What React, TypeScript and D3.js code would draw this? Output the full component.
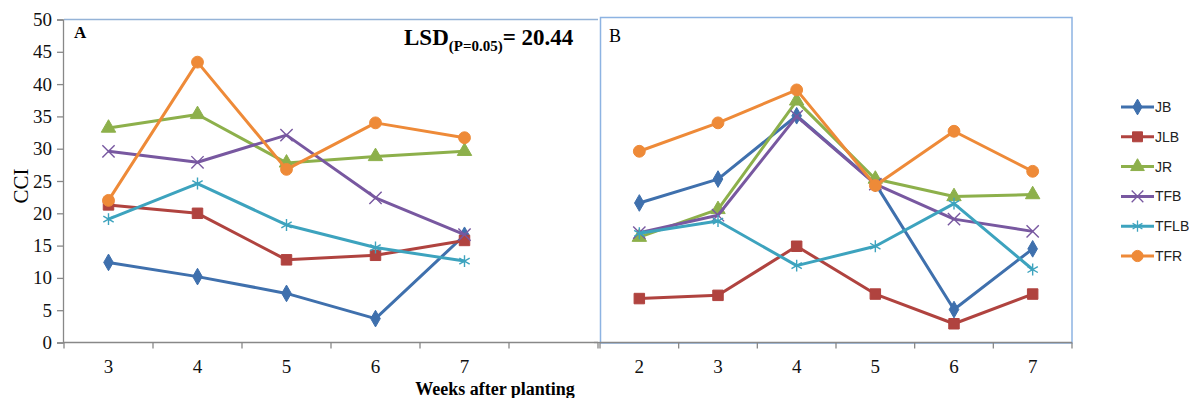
import React, { useEffect, useRef } from 'react';
import * as d3 from 'd3';

// weeks after planting
const weeksA = ['3', '4', '5', '6', '7'];
const weeksB = ['2', '3', '4', '5', '6', '7'];
const yTicks = [0, 5, 10, 15, 20, 25, 30, 35, 40, 45, 50];

const seriesNames = ['JB', 'JLB', 'JR', 'TFB', 'TFLB', 'TFR'];

// panel A values (CCI)
const jbA = [12.4, 10.2, 7.6, 3.7, 16.6];
const jlbA = [21.3, 20.0, 12.8, 13.5, 15.8];
const jrA = [33.2, 35.3, 27.8, 28.8, 29.6];
const tfbA = [29.6, 27.9, 32.1, 22.4, 16.7];
const tflbA = [19.1, 24.6, 18.2, 14.7, 12.6];
const tfrA = [22.0, 43.4, 26.8, 34.0, 31.7];

// panel B values (CCI)
const jbB = [21.6, 25.3, 35.1, 24.6, 5.1, 14.5];
const jlbB = [6.8, 7.3, 14.9, 7.5, 2.9, 7.5];
const jrB = [16.3, 20.6, 37.4, 25.3, 22.6, 22.9];
const tfbB = [17.0, 19.7, 35.0, 24.5, 19.1, 17.2];
const tflbB = [16.9, 18.8, 11.9, 14.9, 21.5, 11.3];
const tfrB = [29.6, 34.0, 39.1, 24.3, 32.7, 26.5];

const colors = ['#3F70AD', '#B0433F', '#8DB04B', '#7858A0', '#3DA3BE', '#EE8A38'];
const symbols = [
  d3.symbolDiamond,
  d3.symbolSquare,
  d3.symbolTriangle,
  d3.symbolX,
  d3.symbolAsterisk,
  d3.symbolCircle,
];
const symbolSizes = [80, 110, 90, 100, 100, 110];
const strokeSymbol = [false, false, false, true, true, false];

const serif = '"Liberation Serif", "Times New Roman", serif';

const App = () => {
  const ref = useRef<SVGSVGElement>(null);

  useEffect(() => {
    const svg = d3.select(ref.current);
    svg.selectAll('*').remove();

    const y = d3.scaleLinear().domain([0, 50]).range([342.5, 19.5]);

    const drawPanel = (
      cats: string[],
      slots: string[],
      x0: number,
      x1: number,
      values: number[][],
    ) => {
      const x = d3.scaleBand().domain(slots).range([x0, x1]).padding(0);
      const bw = x.bandwidth();
      const cx = (c: string) => (x(c) as number) + bw / 2;
      const g = svg.append('g');

      // x axis line + ticks at band edges
      g.append('line')
        .attr('x1', x0).attr('x2', x1)
        .attr('y1', y(0)).attr('y2', y(0))
        .attr('stroke', '#888').attr('stroke-width', 1.3);
      g.selectAll('.xt')
        .data(slots.map((s) => x(s) as number).concat([x1]))
        .enter().append('line')
        .attr('x1', (d) => d).attr('x2', (d) => d)
        .attr('y1', y(0)).attr('y2', y(0) + 6)
        .attr('stroke', '#888').attr('stroke-width', 1.3);
      g.selectAll('.xl')
        .data(cats)
        .enter().append('text')
        .attr('x', (d) => cx(d))
        .attr('y', y(0) + 30)
        .attr('text-anchor', 'middle')
        .attr('font-family', serif)
        .attr('font-size', 19)
        .attr('fill', '#111')
        .text((d) => d);

      values.forEach((vals, i) => {
        const line = d3.line<number>()
          .x((_, j) => cx(cats[j]))
          .y((d) => y(d));
        g.append('path')
          .attr('d', line(vals))
          .attr('fill', 'none')
          .attr('stroke', colors[i])
          .attr('stroke-width', 3)
          .attr('stroke-linejoin', 'round');
        const sym = d3.symbol().type(symbols[i]).size(symbolSizes[i]);
        g.selectAll(null)
          .data(vals)
          .enter().append('path')
          .attr('d', sym)
          .attr('transform', (d, j) => `translate(${cx(cats[j])},${y(d)})`)
          .attr('fill', strokeSymbol[i] ? 'none' : colors[i])
          .attr('stroke', colors[i])
          .attr('stroke-width', strokeSymbol[i] ? 1.4 : 1);
      });
    };

    // panel B frame
    svg.append('rect')
      .attr('x', 600.5).attr('y', 17.5)
      .attr('width', 471.5).attr('height', 325.5)
      .attr('fill', 'none')
      .attr('stroke', '#8DB3E2').attr('stroke-width', 1.5);

    // panel A top border
    svg.append('line')
      .attr('x1', 64).attr('x2', 598)
      .attr('y1', 19.5).attr('y2', 19.5)
      .attr('stroke', '#95B3D7').attr('stroke-width', 1.5);

    // panel A y axis
    const ay = svg.append('g')
      .attr('transform', 'translate(63,0)')
      .call(d3.axisLeft(y).tickValues(yTicks).tickSize(6).tickPadding(5));
    ay.select('.domain').attr('stroke', '#888').attr('stroke-width', 1.3);
    ay.selectAll('.tick line').attr('stroke', '#888').attr('stroke-width', 1.3);
    ay.selectAll('.tick text')
      .attr('font-family', serif)
      .attr('font-size', 19)
      .attr('fill', '#111');

    // panel B y tick at zero
    svg.append('line')
      .attr('x1', 594).attr('x2', 600)
      .attr('y1', y(0)).attr('y2', y(0))
      .attr('stroke', '#888').attr('stroke-width', 1.3);

    drawPanel(weeksA, [...weeksA, ' '], 64, 598,
      [jbA, jlbA, jrA, tfbA, tflbA, tfrA]);
    drawPanel(weeksB, weeksB, 600, 1072,
      [jbB, jlbB, jrB, tfbB, tflbB, tfrB]);

    // labels
    svg.append('text')
      .attr('x', 74).attr('y', 38)
      .attr('font-family', serif).attr('font-size', 17).attr('font-weight', 'bold')
      .text('A');
    svg.append('text')
      .attr('x', 609).attr('y', 42)
      .attr('font-family', serif).attr('font-size', 18)
      .text('B');

    const lsd = svg.append('text')
      .attr('x', 404).attr('y', 45)
      .attr('font-family', serif).attr('font-weight', 'bold')
      .attr('font-size', 23);
    lsd.append('tspan').text('LSD');
    lsd.append('tspan').attr('font-size', 15).attr('dy', 6).text('(P=0.05)');
    lsd.append('tspan').attr('dy', -6).text('= 20.44');

    svg.append('text')
      .attr('transform', 'translate(28,186) rotate(-90)')
      .attr('text-anchor', 'middle')
      .attr('font-family', serif).attr('font-size', 21)
      .text('CCI');

    svg.append('text')
      .attr('x', 495).attr('y', 395)
      .attr('text-anchor', 'middle')
      .attr('font-family', serif).attr('font-size', 18).attr('font-weight', 'bold')
      .text('Weeks after planting');

    // legend
    const lg = svg.append('g');
    seriesNames.forEach((name, i) => {
      const ly = 107 + i * 29.8;
      lg.append('line')
        .attr('x1', 1121).attr('x2', 1154)
        .attr('y1', ly).attr('y2', ly)
        .attr('stroke', colors[i]).attr('stroke-width', 3);
      lg.append('path')
        .attr('d', d3.symbol().type(symbols[i]).size(symbolSizes[i] * 0.9)())
        .attr('transform', `translate(1137.5,${ly})`)
        .attr('fill', strokeSymbol[i] ? 'none' : colors[i])
        .attr('stroke', colors[i])
        .attr('stroke-width', strokeSymbol[i] ? 1.3 : 1);
      lg.append('text')
        .attr('x', 1155).attr('y', ly + 5)
        .attr('font-family', '"Liberation Sans", Arial, sans-serif')
        .attr('font-size', 14)
        .attr('fill', '#222')
        .text(name);
    });
  }, []);

  return (
    <svg
      ref={ref}
      width={1189}
      height={398}
      style={{ position: 'absolute', left: 0, top: 0, background: '#fff' }}
    />
  );
};

export default App;
